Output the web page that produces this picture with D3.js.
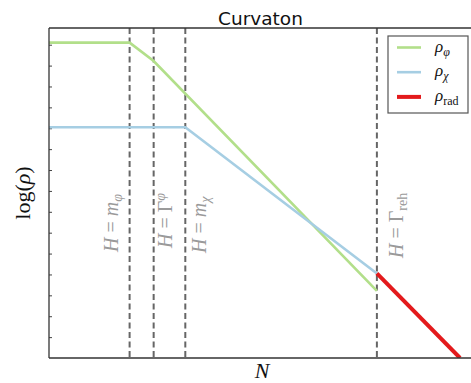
<!DOCTYPE html>
<html>
<head>
<meta charset="utf-8">
<script src="https://cdn.jsdelivr.net/npm/d3@7"></script>
<style>
  body { margin: 0; background: #fff; }
  svg { display: block; }
  .math { font-family: 'Liberation Serif', 'Times New Roman', serif; }
</style>
</head>
<body>
<svg width="471" height="383"></svg>
<script>
(function() {
  'use strict';

  // x = N (e-folds), y = log(rho), arbitrary units
  const phiN = [0, 1.91, 2.48, 7.77];
  const phiLog = [15.1, 15.1, 14.22, 3.21];
  const chiN = [0, 3.23, 7.77];
  const chiLog = [11.05, 11.05, 4.05];
  const radN = [7.77, 9.74];
  const radLog = [4.05, 0];

  const eventN = [1.91, 2.48, 3.23, 7.77];
  // [main, sub, script position]
  const eventLabels = [
    ['m', '\u03c6', 'sub'],
    ['\u0393', '\u03c6', 'sup'],
    ['m', '\u03c7', 'sub'],
    ['\u0393', 'reh', 'sub'],
  ];
  const yTicks = d3.range(1, 16);

  const legendNames = [['\u03c6', true], ['\u03c7', true], ['rad', false]];
  const colors = ['#b2df8a', '#a6cee3', '#e31a1c'];
  const widths = [2.6, 2.6, 4];

  const margin = {top: 28, right: 0, bottom: 25, left: 49};
  const svg = d3.select('svg');
  const width = +svg.attr('width') - margin.left - margin.right;
  const height = +svg.attr('height') - margin.top - margin.bottom;

  const x = d3.scaleLinear().domain([0, 10]).range([0, width]);
  const y = d3.scaleLinear().domain([0, 15.8]).range([height, 0]);

  const g = svg.append('g')
      .attr('transform', 'translate(' + margin.left + ',' + margin.top + ')');

  g.append('defs').append('clipPath')
      .attr('id', 'clip')
      .append('rect')
      .attr('width', width)
      .attr('height', height);

  // y ticks, inward, no labels
  g.append('g')
      .call(d3.axisRight(y).tickValues(yTicks).tickSize(3).tickFormat(''))
      .call((a) => a.select('.domain').remove())
      .selectAll('line')
      .attr('stroke', '#444');

  // event lines
  g.append('g').selectAll('line')
      .data(eventN)
      .join('line')
      .attr('x1', (d) => x(d))
      .attr('x2', (d) => x(d))
      .attr('y1', 0)
      .attr('y2', height)
      .attr('stroke', '#666')
      .attr('stroke-width', 2)
      .attr('stroke-dasharray', '6,3.5');

  const line = d3.line()
      .x((d) => x(d[0]))
      .y((d) => y(d[1]));

  const series = [
    d3.zip(phiN, phiLog),
    d3.zip(chiN, chiLog),
    d3.zip(radN, radLog),
  ];

  g.append('g')
      .attr('clip-path', 'url(#clip)')
      .selectAll('path')
      .data(series)
      .join('path')
      .attr('d', line)
      .attr('fill', 'none')
      .attr('stroke', (d, i) => colors[i])
      .attr('stroke-width', (d, i) => widths[i]);

  // event labels, rotated
  const labelX = [-12, 18, 21, 26];
  const labelY = [252, 248, 253, 258];
  eventLabels.forEach((lab, i) => {
    const t = g.append('text')
        .attr('class', 'math')
        .attr('transform', 'translate(' + (x(eventN[i]) + labelX[i]) + ',' +
          (labelY[i] - margin.top) + ') rotate(-90)')
        .attr('fill', '#9a9a9a')
        .attr('font-size', 20);
    t.append('tspan').attr('font-style', 'italic').text('H');
    t.append('tspan').text(' = ');
    t.append('tspan')
        .attr('font-style', lab[0] === 'm' ? 'italic' : 'normal')
        .text(lab[0]);
    t.append('tspan')
        .attr('font-size', 14)
        .attr('font-style', lab[1] === 'reh' ? 'normal' : 'italic')
        .attr('dy', lab[2] === 'sup' ? -7 : 4)
        .text(lab[1]);
  });

  // spines
  const spine = g.append('g')
      .attr('stroke', '#333')
      .attr('stroke-width', 1.3);
  spine.append('line').attr('x1', 0).attr('x2', 0).attr('y1', 0).attr('y2', height);
  spine.append('line').attr('x1', 0).attr('x2', width).attr('y1', 0).attr('y2', 0);
  spine.append('line').attr('x1', 0).attr('x2', width).attr('y1', height).attr('y2', height);

  // legend
  const legend = svg.append('g').attr('transform', 'translate(388,36)');
  legend.append('rect')
      .attr('width', 80)
      .attr('height', 77)
      .attr('fill', '#fff')
      .attr('stroke', '#555')
      .attr('stroke-width', 1.2);
  legendNames.forEach((nm, i) => {
    const ly = 11.5 + i * 24.7;
    legend.append('line')
        .attr('x1', 9).attr('x2', 33)
        .attr('y1', ly).attr('y2', ly)
        .attr('stroke', colors[i])
        .attr('stroke-width', widths[i]);
    const t = legend.append('text')
        .attr('class', 'math')
        .attr('x', 47)
        .attr('y', ly + 4)
        .attr('font-size', 17)
        .attr('fill', '#111');
    t.append('tspan').attr('font-style', 'italic').text('\u03c1');
    t.append('tspan')
        .attr('font-size', 12)
        .attr('dy', 4)
        .attr('font-style', nm[1] ? 'italic' : 'normal')
        .text(nm[0]);
  });

  // title and axis labels
  svg.append('text')
      .attr('x', 260.5)
      .attr('y', 24.5)
      .attr('text-anchor', 'middle')
      .attr('font-family', 'DejaVu Sans, sans-serif')
      .attr('font-size', 18.5)
      .attr('fill', '#111')
      .text('Curvaton');

  svg.append('text')
      .attr('class', 'math')
      .attr('x', 262)
      .attr('y', 378)
      .attr('text-anchor', 'middle')
      .attr('font-size', 22)
      .attr('font-style', 'italic')
      .attr('fill', '#111')
      .text('N');

  const yl = svg.append('text')
      .attr('class', 'math')
      .attr('transform', 'translate(30,193) rotate(-90)')
      .attr('text-anchor', 'middle')
      .attr('font-size', 22)
      .attr('fill', '#111');
  yl.append('tspan').text('log(');
  yl.append('tspan').attr('font-style', 'italic').text('\u03c1');
  yl.append('tspan').text(')');
})();
</script>
</body>
</html>
